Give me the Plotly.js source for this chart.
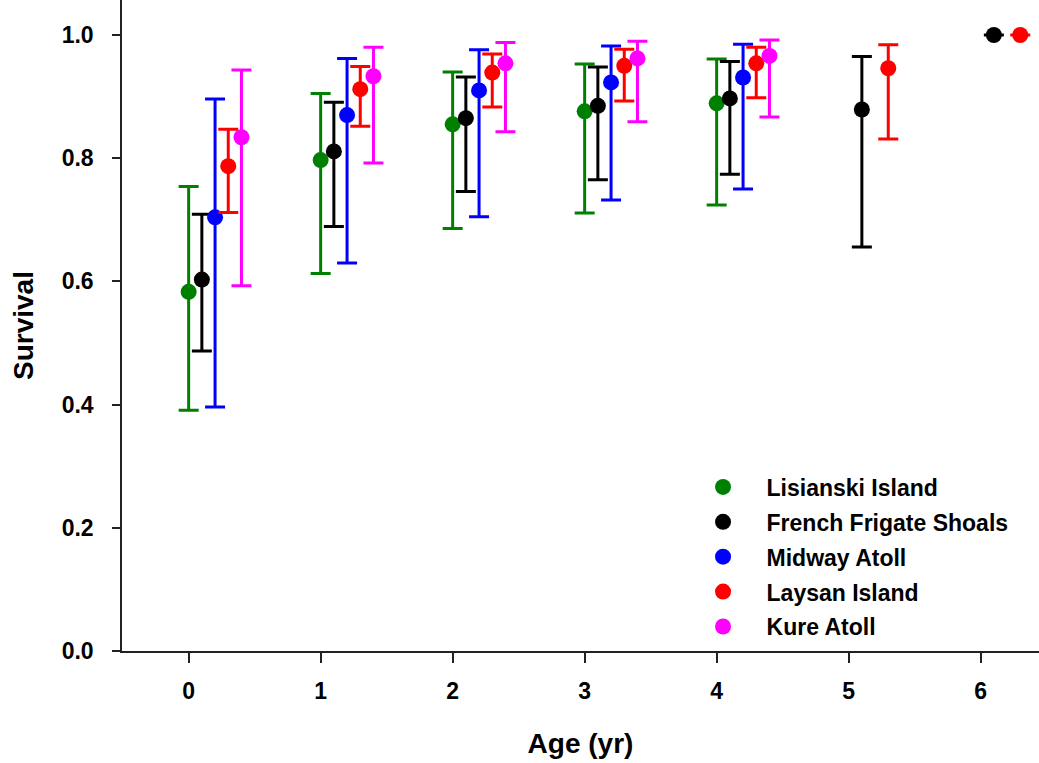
<!DOCTYPE html>
<html>
<head>
<meta charset="utf-8">
<script src="https://cdn.plot.ly/plotly-3.0.1.min.js"></script>
<style>
  html, body { margin: 0; padding: 0; background: #fff; overflow: hidden; }
  #chart { width: 1039px; height: 763px; }
</style>
</head>
<body>
<div id="chart"></div>
<script>
// ---- data ----
const ages = [0, 1, 2, 3, 4, 5, 6];
const seriesNames = ["Lisianski Island", "French Frigate Shoals", "Midway Atoll", "Laysan Island", "Kure Atoll"];
const seriesColors = ["#008000", "#000000", "#0000ff", "#ff0000", "#ff00ff"];

const lisianskiSurvival = [0.583, 0.797, 0.855, 0.876, 0.889, null, null];
const lisianskiUpper    = [0.754, 0.905, 0.940, 0.953, 0.961, null, null];
const lisianskiLower    = [0.391, 0.613, 0.686, 0.711, 0.724, null, null];

const ffsSurvival = [0.603, 0.811, 0.865, 0.885, 0.897, 0.879, 1.0];
const ffsUpper    = [0.709, 0.891, 0.932, 0.948, 0.957, 0.965, null];
const ffsLower    = [0.487, 0.689, 0.746, 0.765, 0.774, 0.656, null];

const midwaySurvival = [0.704, 0.870, 0.910, 0.923, 0.931, null, null];
const midwayUpper    = [0.896, 0.962, 0.976, 0.982, 0.985, null, null];
const midwayLower    = [0.396, 0.630, 0.705, 0.732, 0.750, null, null];

const laysanSurvival = [0.787, 0.912, 0.939, 0.950, 0.954, 0.946, 1.0];
const laysanUpper    = [0.847, 0.949, 0.969, 0.977, 0.980, 0.984, 1.0];
const laysanLower    = [0.712, 0.852, 0.883, 0.893, 0.898, 0.831, 1.0];

const kureSurvival = [0.834, 0.933, 0.954, 0.962, 0.966, null, null];
const kureUpper    = [0.943, 0.980, 0.988, 0.990, 0.992, null, null];
const kureLower    = [0.593, 0.792, 0.843, 0.859, 0.867, null, null];

const yTickVals = [0.0, 0.2, 0.4, 0.6, 0.8, 1.0];
const yTickText = ["0.0", "0.2", "0.4", "0.6", "0.8", "1.0"];

// ---- build traces ----
const allSurv = [lisianskiSurvival, ffsSurvival, midwaySurvival, laysanSurvival, kureSurvival];
const allUp = [lisianskiUpper, ffsUpper, midwayUpper, laysanUpper, kureUpper];
const allLo = [lisianskiLower, ffsLower, midwayLower, laysanLower, kureLower];
const dodge = 0.1; // horizontal offset between sites

const FONT = "Liberation Sans, Arial, sans-serif";

const traces = seriesNames.map((name, i) => {
  const s = allSurv[i], up = allUp[i], lo = allLo[i];
  const x = ages.map(a => a + i * dodge);
  return {
    type: "scatter",
    mode: "markers",
    name: name,
    legendgroup: "g" + i,
    x: x,
    y: s,
    marker: { color: seriesColors[i], size: 16 },
    error_y: {
      type: "data",
      symmetric: false,
      array: s.map((v, k) => (v == null || up[k] == null) ? null : up[k] - v),
      arrayminus: s.map((v, k) => (v == null || lo[k] == null) ? null : v - lo[k]),
      color: seriesColors[i],
      thickness: 3,
      width: 10
    },
    hoverinfo: "x+y+name"
  };
});

const layout = {
  width: 1039,
  height: 763,
  margin: { l: 122, r: 0, t: 0, b: 112 },
  paper_bgcolor: "#ffffff",
  plot_bgcolor: "#ffffff",
  font: { family: FONT, color: "#000000" },
  showlegend: true,
  legend: {
    x: 0.608, y: 0.285, xanchor: "left", yanchor: "top",
    bgcolor: "rgba(0,0,0,0)",
    font: { family: FONT, size: 23, color: "#000000", weight: "bold" },
    itemwidth: 77,
    traceorder: "grouped",
    tracegroupgap: 2
  },
  xaxis: {
    range: [-0.505, 6.442],
    tickvals: ages,
    ticktext: ages.map(String),
    ticks: "outside",
    ticklen: 10,
    tickwidth: 1.5,
    tickcolor: "#222",
    showline: true,
    linecolor: "#222",
    linewidth: 1.5,
    showgrid: false,
    zeroline: false,
    ticklabelstandoff: 9,
    tickfont: { family: FONT, size: 23, weight: "bold", color: "#000" },
    title: { text: "Age (yr)", font: { family: FONT, size: 28, weight: "bold", color: "#000" }, standoff: 30 }
  },
  yaxis: {
    range: [0, 1.0568],
    tickvals: yTickVals,
    ticktext: yTickText,
    ticks: "outside",
    ticklen: 8,
    tickwidth: 1.5,
    tickcolor: "#222",
    showline: true,
    linecolor: "#222",
    linewidth: 1.5,
    showgrid: false,
    zeroline: false,
    ticklabelstandoff: 14,
    tickfont: { family: FONT, size: 23, weight: "bold", color: "#000" },
    title: { text: "Survival", font: { family: FONT, size: 28, weight: "bold", color: "#000" }, standoff: 20 }
  }
};

Plotly.newPlot("chart", traces, layout, { displayModeBar: false, responsive: false });
</script>
</body>
</html>
